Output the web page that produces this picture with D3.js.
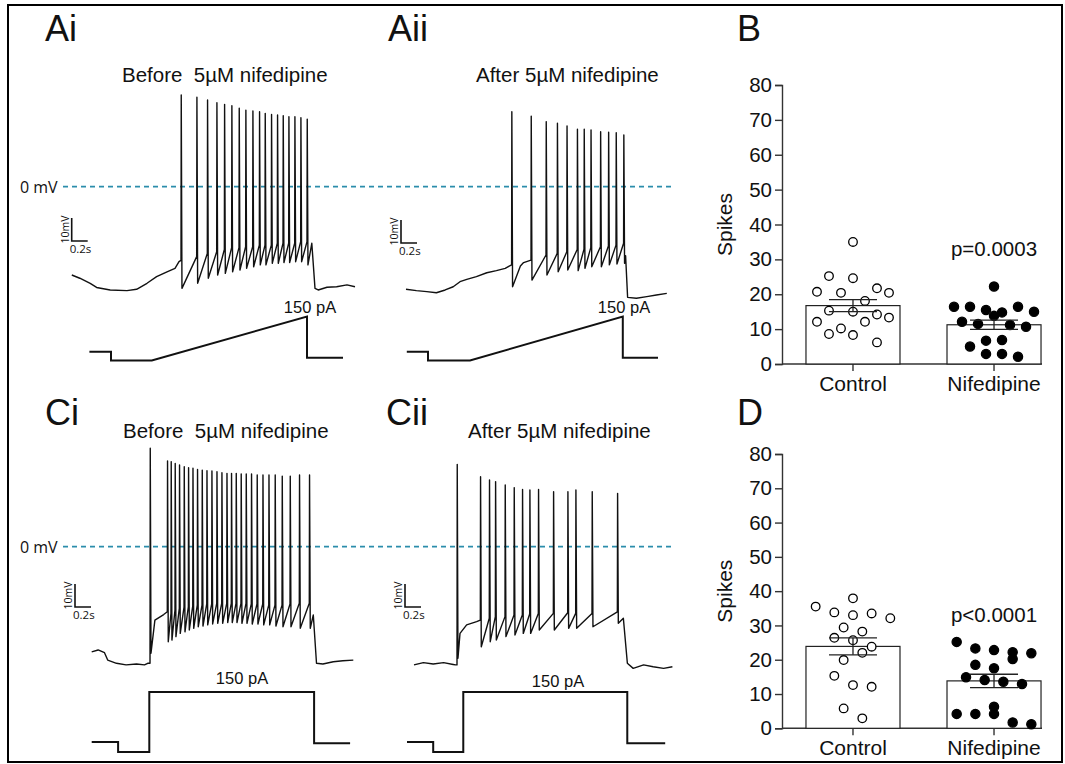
<!DOCTYPE html>
<html>
<head>
<meta charset="utf-8">
<script src="https://cdn.jsdelivr.net/npm/d3@7"></script>
<style>
  body { margin: 0; background: #fff; }
  text { font-family: "Liberation Sans", Arial, sans-serif; fill: #111; }
</style>
</head>
<body>
<script>
// ---- Spike counts (B: ramp, D: step) ----
const groups = ["Control", "Nifedipine"]
const yTicks = [0, 10, 20, 30, 40, 50, 60, 70, 80]

const bControl = [35, 25.2, 24.6, 20.7, 20.4, 21.7, 20.4, 18.1, 15.3, 15.0, 14.2, 13.3, 12.1, 12.1, 10.2, 8.6, 8.3, 6.2]
const bControlSlot = [0, -2, 0, -3, -1, 2, 3, 1, -2, 0, 2, 3, -3, 1, -1, -2, 0, 2]
const bNif = [22.2, 16.4, 16.4, 15.5, 14.8, 16.4, 15.0, 13.8, 12.1, 11.5, 11.2, 10.7, 5.0, 6.7, 6.9, 2.9, 2.9, 2.1]
const bNifSlot = [0, -5, -3, -1, 1, 3, 5, 0, -4, -2, 2, 4, -3, -1, 1, -1, 1, 3]

const dControl = [35.5, 33.8, 37.9, 33.0, 33.5, 32.1, 29.4, 26.4, 25.7, 28.2, 23.8, 22.0, 19.9, 15.3, 12.6, 12.1, 5.8, 2.9]
const dControlSlot = [-4, -2, 0, 0, 2, 4, -1, -2, 0, 1, 2, 1, -1, -2, 0, 2, -1, 1]
const dNif = [25.2, 23.3, 22.8, 22.2, 20.2, 21.9, 18.5, 17.5, 14.9, 14.1, 13.6, 12.9, 4.2, 4.2, 6.3, 4.2, 1.7, 1.2]
const dNifSlot = [-4, -2, 0, 2, 2, 4, -2, 0, -3, -1, 1, 3, -4, -2, 0, 0, 2, 4]

// ---- Voltage traces: time (s), membrane potential (mV) ----
const aiPre = [[0.01, -38.4], [0.11, -39.8], [0.24, -42.0], [0.32, -43.8], [0.49, -44.9], [0.70, -45.2], [0.82, -44.6], [0.95, -42.0], [1.07, -39.1], [1.20, -37.0], [1.30, -35.5], [1.35, -32.6]]
const aiMid = []
const aiPost = [[3.01, -24.6], [3.05, -44.2], [3.09, -44.9], [3.2, -43.7], [3.32, -43.5], [3.45, -42.7], [3.55, -43.5]]
const aiSpikeT = [1.375, 1.571, 1.704, 1.821, 1.917, 2.008, 2.1, 2.183, 2.271, 2.354, 2.425, 2.504, 2.579, 2.65, 2.721, 2.796, 2.871, 2.95]
const aiPeak = [39.9, 38.9, 37.7, 36.5, 35.8, 35.2, 34.1, 33.3, 32.9, 32.6, 31.9, 31.4, 31.2, 30.9, 30.4, 30.4, 30.0, 29.4]
const aiThr = [-32.0, -30.4, -29.0, -28.3, -27.3, -26.5, -26.5, -26.1, -26.1, -25.4, -25.4, -25.4, -24.6, -24.6, -24.6, -24.6, -23.9, -23.9]
const aiTrough = [-44.2, -42.0, -39.8, -38.4, -37.7, -37.0, -36.2, -35.5, -34.8, -34.0, -34.0, -33.3, -33.3, -33.0, -33.0, -32.6, -32.6, -34.0]

const aiiPre = [[0, -44.6], [0.13, -45.2], [0.26, -45.6], [0.38, -46.1], [0.49, -44.9], [0.59, -43.5], [0.675, -41.3], [0.76, -40.3], [0.88, -39.1], [1.01, -37.4], [1.13, -36.5], [1.24, -35.5], [1.29, -34.5]]
const aiiMid = [[1.43, -34.5], [1.47, -33.0]]
const aiiPost = [[2.745, -30.0], [2.77, -48.1], [2.88, -48.5], [3.01, -47.8], [3.13, -47.1], [3.26, -46.4]]
const aiiSpikeT = [1.32, 1.5625, 1.75, 1.89, 2.01, 2.14, 2.225, 2.31, 2.43, 2.53, 2.625, 2.72]
const aiiPeak = [32.6, 30.7, 28.3, 27.6, 26.4, 25.0, 25.0, 24.7, 23.9, 23.7, 23.5, 22.5]
const aiiThr = [-34.0, -31.9, -29.7, -29.0, -28.3, -27.3, -27.2, -26.5, -26.1, -25.8, -25.4, -24.6]
const aiiTrough = [-43.5, -40.6, -38.4, -37.0, -36.2, -36.5, -35.5, -34.8, -34.8, -34.0, -33.6, -33.3]

const ciPre = [[0, -45.7], [0.08, -44.9], [0.16, -46.1], [0.2, -49.3], [0.31, -50.7], [0.43, -51.4], [0.56, -51.0], [0.66, -51.4], [0.70, -50.7]]
const ciMid = [[0.79, -31.9], [0.9, -29.5]]
const ciPost = [[2.77, -29.7], [2.81, -50.7], [2.89, -51.0], [3.02, -50.0], [3.14, -49.6], [3.27, -49.3]]
const ciSpikeT = [0.729, 0.945, 0.991, 1.041, 1.095, 1.154, 1.208, 1.263, 1.32, 1.379, 1.438, 1.5, 1.563, 1.625, 1.688, 1.745, 1.804, 1.866, 1.929, 1.995, 2.066, 2.138, 2.213, 2.291, 2.379, 2.479, 2.595, 2.72]
const ciPeak = [42.8, 37.3, 37.0, 36.2, 35.5, 34.8, 34.3, 34.1, 33.6, 33.3, 33.0, 32.9, 32.6, 32.2, 31.9, 31.9, 31.9, 31.6, 31.6, 31.6, 31.2, 31.2, 31.2, 31.2, 30.7, 30.7, 31.2, 31.2]
const ciThr = [-50.7, -28.3, -29.0, -27.5, -26.8, -26.3, -26.1, -25.8, -25.4, -25.4, -24.9, -24.9, -24.6, -24.6, -24.6, -24.6, -24.6, -24.6, -24.6, -24.9, -24.9, -24.9, -25.4, -25.4, -25.4, -24.9, -24.6, -24.6]
const ciTrough = [-46.3, -41.3, -40.6, -39.1, -37.7, -37.0, -36.2, -35.5, -34.8, -34.5, -34.0, -33.6, -33.3, -33.3, -33.0, -33.0, -33.0, -33.3, -33.3, -33.6, -33.6, -34.0, -34.0, -34.5, -34.8, -34.8, -35.5, -35.5]

const ciiPre = [[0.1, -51.4], [0.217, -50.4], [0.34, -51.0], [0.47, -50.4], [0.59, -51.2], [0.62, -51.4]]
const ciiMid = [[0.675, -37.7], [0.758, -34.0], [0.883, -32.6]]
const ciiPost = [[2.717, -31.1], [2.767, -50.7], [2.84, -52.9], [2.97, -51.4], [3.09, -52.2], [3.22, -52.9], [3.33, -52.2]]
const ciiSpikeT = [0.6375, 0.929, 1.041, 1.117, 1.2375, 1.35, 1.454, 1.546, 1.654, 1.842, 2.021, 2.121, 2.325, 2.642]
const ciiPeak = [35.8, 30.4, 29.0, 28.3, 26.8, 25.7, 24.9, 24.7, 24.9, 23.9, 23.9, 24.7, 23.9, 23.2]
const ciiThr = [-51.4, -31.9, -31.1, -30.4, -30.4, -29.7, -29.7, -29.3, -29.0, -29.0, -28.7, -29.0, -29.0, -28.3]
const ciiTrough = [-48.5, -43.5, -41.3, -40.6, -39.1, -38.4, -37.7, -37.7, -36.2, -36.2, -35.5, -35.5, -34.8, -33.3]

// ---- Current injection protocols: time (s), current (pA) ----
const aiStim = [[0.23, 30], [0.50, 30], [0.50, 0], [1.01, 0], [2.95, 150], [2.95, 9], [3.40, 9]]
const aiiStim = [[0.01, 30], [0.275, 30], [0.275, 0], [0.8, 0], [2.71, 150], [2.71, 9], [3.15, 9]]
const ciStim = [[0, 25], [0.33, 25], [0.33, 0], [0.72, 0], [0.72, 150], [2.78, 150], [2.78, 22], [3.23, 22]]
const ciiStim = [[0.0125, 25], [0.34, 25], [0.34, 0], [0.716, 0], [0.716, 150], [2.766, 150], [2.766, 22], [3.24, 22]]

// ---------------------------------------------------------------
var svg = d3.select("body")
    .append("svg")
    .attr("width", 1065)
    .attr("height", 764)

// cadre
svg.append("rect")
    .attr("x", 8).attr("y", 5)
    .attr("width", 1054).attr("height", 757)
    .attr("fill", "none").attr("stroke", "#000").attr("stroke-width", 2)

function tracePoints(pre, mid, post, spikeT, thr, peak, trough) {
    const pts = pre.concat(mid, post)
    spikeT.forEach((t, i) => {
        pts.push([t, thr[i]], [t + 0.003, peak[i]], [t + 0.012, trough[i]])
    })
    return pts.sort((a, b) => a[0] - b[0])
}

const rows = [
    { zeroY: 186.7, stimY: [360.5, 316.5] },
    { zeroY: 546.7, stimY: [752, 692] }
]

const panels = [
    { row: 0, x0: 71, pts: tracePoints(aiPre, aiMid, aiPost, aiSpikeT, aiThr, aiPeak, aiTrough), stim: aiStim,
      bar: [71.7, 241], lab: [310, 312.7] },
    { row: 0, x0: 406, pts: tracePoints(aiiPre, aiiMid, aiiPost, aiiSpikeT, aiiThr, aiiPeak, aiiTrough), stim: aiiStim,
      bar: [401, 243], lab: [624, 312.7] },
    { row: 1, x0: 91.7, pts: tracePoints(ciPre, ciMid, ciPost, ciSpikeT, ciThr, ciPeak, ciTrough), stim: ciStim,
      bar: [75, 607], lab: [242, 684] },
    { row: 1, x0: 406, pts: tracePoints(ciiPre, ciiMid, ciiPost, ciiSpikeT, ciiThr, ciiPeak, ciiTrough), stim: ciiStim,
      bar: [405, 607], lab: [558, 686.5] }
]

// lignes 0 mV
rows.forEach(r => {
    svg.append("line")
        .attr("x1", 63).attr("x2", 673)
        .attr("y1", r.zeroY).attr("y2", r.zeroY)
        .attr("stroke", "#2b8dab").attr("stroke-width", 1.8)
        .attr("stroke-dasharray", "5,4")
    svg.append("text")
        .attr("x", 20).attr("y", r.zeroY + 6.5)
        .style("font-family", "'Open Sans', sans-serif")
        .style("font-size", "16px")
        .text("0 mV")
})

panels.forEach(p => {
    const r = rows[p.row]
    const t = d3.scaleLinear().domain([0, 1]).range([p.x0, p.x0 + 80])
    const v = d3.scaleLinear().domain([0, 10]).range([r.zeroY, r.zeroY - 23])
    const s = d3.scaleLinear().domain([0, 150]).range(r.stimY)

    svg.append("path")
        .datum(p.pts)
        .attr("d", d3.line().x(d => t(d[0])).y(d => v(d[1])))
        .attr("fill", "none").attr("stroke", "#111")
        .attr("stroke-width", 1.4).attr("stroke-linejoin", "round")

    svg.append("path")
        .datum(p.stim)
        .attr("d", d3.line().x(d => t(d[0])).y(d => s(d[1])))
        .attr("fill", "none").attr("stroke", "#111")
        .attr("stroke-width", 2)

    svg.append("text")
        .attr("x", p.lab[0]).attr("y", p.lab[1])
        .attr("text-anchor", "middle")
        .style("font-size", "16.5px")
        .text("150 pA")

    // barre d'échelle 10 mV / 0.2 s
    const bx = p.bar[0], by = p.bar[1]
    const hLen = t(0.2) - t(0), vLen = v(0) - v(10)
    svg.append("path")
        .attr("d", `M${bx},${by - vLen}V${by}H${bx + hLen}`)
        .attr("fill", "none").attr("stroke", "#111").attr("stroke-width", 1.6)
    svg.append("text")
        .attr("transform", `translate(${bx - 3},${by - vLen / 2}) rotate(-90)`)
        .attr("text-anchor", "middle")
        .style("font-family", "'Open Sans', sans-serif")
        .style("font-size", "10.5px")
        .text("10mV")
    svg.append("text")
        .attr("x", bx - 2).attr("y", by + 12)
        .style("font-family", "'Open Sans', sans-serif")
        .style("font-size", "11.5px")
        .text("0.2s")
})

// lettres et titres
const letters = [["Ai", 45, 41], ["Aii", 388, 41], ["B", 737, 41], ["Ci", 45, 425], ["Cii", 386, 425], ["D", 737, 425]]
letters.forEach(l => {
    svg.append("text").attr("x", l[1]).attr("y", l[2])
        .style("font-size", "36px").text(l[0])
})
const titles = [["Before  5µM nifedipine", 122, 82], ["After 5µM nifedipine", 476, 82],
                ["Before  5µM nifedipine", 123, 438], ["After 5µM nifedipine", 468, 438]]
titles.forEach(l => {
    svg.append("text").attr("x", l[1]).attr("y", l[2])
        .style("font-size", "20.5px").style("white-space", "pre").text(l[0])
})

// ---- graphiques en barres ----
function barPanel(top, bottom, ctrl, ctrlSlot, nif, nifSlot, ctrlStep, nifStep, pText) {
    const y = d3.scaleLinear().domain([0, 80]).range([bottom, top])
    const x = d3.scaleBand().domain(groups).range([782, 1065]).paddingInner(1 / 3).paddingOuter(0.17)
    const g = svg.append("g")

    g.append("g")
        .attr("transform", "translate(782,0)")
        .call(d3.axisLeft(y).tickValues(yTicks).tickSize(7).tickPadding(3))
        .call(a => a.selectAll("text").style("font-size", "20.5px").attr("fill", "#111"))
        .call(a => a.selectAll("line,path").attr("stroke", "#333").attr("stroke-width", 1.4))

    g.append("line")
        .attr("x1", 782).attr("x2", 1042).attr("y1", bottom).attr("y2", bottom)
        .attr("stroke", "#333").attr("stroke-width", 1.4)
    g.append("g")
        .attr("transform", `translate(0,${bottom})`)
        .call(d3.axisBottom(x).tickSize(7).tickPadding(5))
        .call(a => a.select(".domain").remove())
        .call(a => a.selectAll("text").style("font-size", "21px").attr("fill", "#111"))
        .call(a => a.selectAll("line").attr("stroke", "#333").attr("stroke-width", 1.4))

    g.append("text")
        .attr("transform", `translate(732,${y(40)}) rotate(-90)`)
        .attr("text-anchor", "middle")
        .style("font-size", "21px")
        .text("Spikes")

    const sets = [
        { name: "Control", vals: ctrl, slot: ctrlSlot, step: ctrlStep, fill: "#fff", r: 4.3 },
        { name: "Nifedipine", vals: nif, slot: nifSlot, step: nifStep, fill: "#000", r: 4.6 }
    ]
    sets.forEach(s => {
        const m = d3.mean(s.vals)
        const sem = d3.deviation(s.vals) / Math.sqrt(s.vals.length)
        const cx = x(s.name) + x.bandwidth() / 2
        g.append("rect")
            .attr("x", x(s.name)).attr("y", y(m))
            .attr("width", x.bandwidth()).attr("height", y(0) - y(m))
            .attr("fill", "#fff").attr("stroke", "#222").attr("stroke-width", 1.2)
        g.selectAll(null)
            .data(s.vals)
            .enter()
            .append("circle")
            .attr("cx", (d, i) => cx + s.slot[i] * s.step)
            .attr("cy", d => y(d))
            .attr("r", s.r)
            .attr("fill", s.fill)
            .attr("stroke", "#000").attr("stroke-width", 1.3)
        const eb = g.append("g").attr("stroke", "#222").attr("stroke-width", 1.3)
        eb.append("line").attr("x1", cx).attr("x2", cx).attr("y1", y(m + sem)).attr("y2", y(m - sem))
        eb.append("line").attr("x1", cx - 24).attr("x2", cx + 24).attr("y1", y(m + sem)).attr("y2", y(m + sem))
        eb.append("line").attr("x1", cx - 24).attr("x2", cx + 24).attr("y1", y(m - sem)).attr("y2", y(m - sem))
    })

    g.append("text")
        .attr("x", x("Nifedipine") + x.bandwidth() / 2).attr("y", y(31))
        .attr("text-anchor", "middle")
        .style("font-size", "20.5px")
        .text(pText)
}

barPanel(85, 364, bControl, bControlSlot, bNif, bNifSlot, 12, 8, "p=0.0003")
barPanel(454, 728.3, dControl, dControlSlot, dNif, dNifSlot, 9.33, 9.33, "p<0.0001")
</script>
</body>
</html>
